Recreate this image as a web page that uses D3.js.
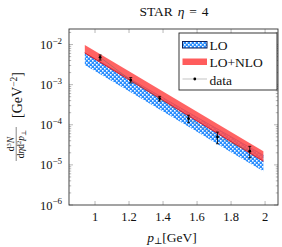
<!DOCTYPE html>
<html>
<head>
<meta charset="utf-8">
<script src="https://cdn.jsdelivr.net/npm/d3@7"></script>
<style>
    body { margin: 0; background: #fff; }
    svg text { font-family: "Liberation Serif", "DejaVu Serif", serif; fill: #111; }
</style>
</head>
<body>
<div id="chart"></div>
<script>

    // band sample points (pT) and values
    var bandX = [0.94, 1.2, 1.4, 1.6, 1.8, 1.99];
    var loLow = [3.09e-3, 6.82e-4, 2.13e-4, 6.67e-5, 2.08e-5, 6.9e-6];
    var loHigh = [6.17e-3, 1.44e-3, 4.70e-4, 1.53e-4, 5.01e-5, 1.74e-5];
    var nloLow = [6.17e-3, 1.32e-3, 4.05e-4, 1.24e-4, 3.79e-5, 1.23e-5];
    var nloHigh = [9.77e-3, 2.16e-3, 6.75e-4, 2.11e-4, 6.59e-5, 2.19e-5];

    // STAR data
    var dataX = [1.03, 1.21, 1.38, 1.55, 1.72, 1.91];
    var dataY = [4.8e-3, 1.3e-3, 4.5e-4, 1.43e-4, 4.96e-5, 2.2e-5];
    var dataErr = [0.7e-3, 0.2e-3, 0.6e-4, 0.3e-4, 1.6e-5, 0.7e-5];

    var xTicks = [1, 1.2, 1.4, 1.6, 1.8, 2];
    var yTickExp = [-2, -3, -4, -5, -6];
    var legendLabels = ["LO", "LO+NLO", "data"];

    var W = 282, H = 247;
    var pL = 69, pR = 278, pT = 29, pB = 205;

    var svg = d3.select("#chart").append("svg")
        .attr("width", W)
        .attr("height", H);

    var defs = svg.append("defs");
    var pat = defs.append("pattern")
        .attr("id", "dots")
        .attr("patternUnits", "userSpaceOnUse")
        .attr("width", 4)
        .attr("height", 4);
    pat.append("rect").attr("width", 4).attr("height", 4).attr("fill", "#2a8eff");
    pat.append("rect").attr("x", 0).attr("y", 0).attr("width", 1.6).attr("height", 1.6).attr("fill", "#fff");
    pat.append("rect").attr("x", 2).attr("y", 2).attr("width", 1.6).attr("height", 1.6).attr("fill", "#fff");

    defs.append("clipPath").attr("id", "clip")
        .append("rect")
        .attr("x", pL).attr("y", pT)
        .attr("width", pR - pL).attr("height", pB - pT);

    var x = d3.scaleLinear()
        .domain([0.847, 2.076])
        .range([pL, pR]);

    var y = d3.scaleLog()
        .domain([1e-6, Math.pow(10, -1.6125)])
        .range([pB, pT]);

    // minor ticks on log axis
    var minor = [];
    yTickExp.forEach(function (e) {
        for (var k = 2; k <= 9; k++) {
            var v = k * Math.pow(10, e);
            if (v < y.domain()[1]) minor.push(v);
        }
    });

    var ticks = svg.append("g").attr("stroke", "#9a9a9a").attr("stroke-width", 0.7);
    minor.forEach(function (v) {
        ticks.append("line").attr("x1", pL).attr("x2", pL + 2.2).attr("y1", y(v)).attr("y2", y(v));
        ticks.append("line").attr("x1", pR).attr("x2", pR - 2.2).attr("y1", y(v)).attr("y2", y(v));
    });
    yTickExp.forEach(function (e) {
        var v = Math.pow(10, e);
        ticks.append("line").attr("x1", pL).attr("x2", pL + 4).attr("y1", y(v)).attr("y2", y(v));
        ticks.append("line").attr("x1", pR).attr("x2", pR - 4).attr("y1", y(v)).attr("y2", y(v));
    });
    xTicks.forEach(function (t) {
        ticks.append("line").attr("x1", x(t)).attr("x2", x(t)).attr("y1", pB).attr("y2", pB - 4);
        ticks.append("line").attr("x1", x(t)).attr("x2", x(t)).attr("y1", pT).attr("y2", pT + 4);
    });

    var plot = svg.append("g").attr("clip-path", "url(#clip)");

    var loArea = d3.area()
        .x(function (d, i) { return x(bandX[i]); })
        .y0(function (d, i) { return y(loLow[i]); })
        .y1(function (d, i) { return y(loHigh[i]); });

    var nloArea = d3.area()
        .x(function (d, i) { return x(bandX[i]); })
        .y0(function (d, i) { return y(nloLow[i]); })
        .y1(function (d, i) { return y(nloHigh[i]); });

    plot.append("path")
        .datum(bandX)
        .attr("d", loArea)
        .attr("fill", "url(#dots)");

    plot.append("path")
        .datum(bandX)
        .attr("d", d3.line().x(function (d, i) { return x(bandX[i]); }).y(function (d, i) { return y(loHigh[i]); }))
        .attr("fill", "none")
        .attr("stroke", "#2f5fc8")
        .attr("stroke-width", 1);

    plot.append("path")
        .datum(bandX)
        .attr("d", nloArea)
        .attr("fill", "#ff4d4d")
        .attr("fill-opacity", 0.88);

    plot.append("path")
        .datum(bandX)
        .attr("d", d3.line().x(function (d, i) { return x(bandX[i]); }).y(function (d, i) { return y(nloLow[i]); }))
        .attr("fill", "none")
        .attr("stroke", "#d42030")
        .attr("stroke-width", 1);

    // data
    plot.append("path")
        .datum(dataX)
        .attr("d", d3.line().x(function (d, i) { return x(dataX[i]); }).y(function (d, i) { return y(dataY[i]); }))
        .attr("fill", "none")
        .attr("stroke", "#666")
        .attr("stroke-width", 0.4);

    dataX.forEach(function (d, i) {
        var g = plot.append("g").attr("stroke", "#000").attr("stroke-width", 0.8);
        g.append("line")
            .attr("x1", x(d)).attr("x2", x(d))
            .attr("y1", y(dataY[i] - dataErr[i])).attr("y2", y(dataY[i] + dataErr[i]));
        [dataY[i] - dataErr[i], dataY[i] + dataErr[i]].forEach(function (v) {
            g.append("line").attr("x1", x(d) - 1.5).attr("x2", x(d) + 1.5).attr("y1", y(v)).attr("y2", y(v));
        });
        plot.append("circle").attr("cx", x(d)).attr("cy", y(dataY[i])).attr("r", 1.4).attr("fill", "#000");
    });

    // frame
    svg.append("rect")
        .attr("x", pL).attr("y", pT)
        .attr("width", pR - pL).attr("height", pB - pT)
        .attr("fill", "none")
        .attr("stroke", "#333")
        .attr("stroke-width", 0.9);

    // tick labels
    xTicks.forEach(function (t) {
        svg.append("text")
            .attr("x", x(t)).attr("y", 221)
            .attr("text-anchor", "middle")
            .attr("font-size", 12.5)
            .text(t);
    });
    yTickExp.forEach(function (e) {
        var txt = svg.append("text")
            .attr("x", 62).attr("y", y(Math.pow(10, e)) + 4.5)
            .attr("text-anchor", "end")
            .attr("font-size", 12.5);
        txt.append("tspan").text("10");
        txt.append("tspan").attr("dy", -5.5).attr("font-size", 9).text("\u2212" + (-e));
    });

    // axis labels
    var xl = svg.append("text")
        .attr("x", 172).attr("y", 242)
        .attr("text-anchor", "middle")
        .attr("font-size", 13.5);
    xl.append("tspan").attr("font-style", "italic").text("p");
    xl.append("tspan").attr("font-size", 9).attr("dy", 2).text("\u22a5");
    xl.append("tspan").attr("dy", -2).text("[GeV]");

    var yl = svg.append("g").attr("transform", "translate(18,117) rotate(-90)");
    var num = yl.append("text").attr("x", -27).attr("y", -4).attr("text-anchor", "middle").attr("font-size", 9.5);
    num.append("tspan").text("d");
    num.append("tspan").attr("dy", -3.5).attr("font-size", 6.5).text("3");
    num.append("tspan").attr("dy", 3.5).attr("font-style", "italic").text("N");
    yl.append("line").attr("x1", -44).attr("x2", -10).attr("y1", -1.8).attr("y2", -1.8)
        .attr("stroke", "#111").attr("stroke-width", 0.5);
    var den = yl.append("text").attr("x", -27).attr("y", 6).attr("text-anchor", "middle").attr("font-size", 9.5);
    den.append("tspan").text("d");
    den.append("tspan").attr("font-style", "italic").text("\u03b7");
    den.append("tspan").text("d");
    den.append("tspan").attr("dy", -3.5).attr("font-size", 6.5).text("2");
    den.append("tspan").attr("dy", 3.5).attr("font-style", "italic").text("p");
    den.append("tspan").attr("dy", 1.5).attr("font-size", 6.5).text("\u22a5");
    var unit = yl.append("text").attr("x", 22).attr("y", 4).attr("text-anchor", "middle").attr("font-size", 14);
    unit.append("tspan").text("[GeV");
    unit.append("tspan").attr("dy", -5.5).attr("font-size", 9.5).text("\u22122");
    unit.append("tspan").attr("dy", 5.5).text("]");

    // title
    var title = svg.append("text")
        .attr("x", 174).attr("y", 16)
        .attr("text-anchor", "middle")
        .attr("font-size", 13.5)
        .attr("word-spacing", 1.5);
    title.append("tspan").text("STAR ");
    title.append("tspan").attr("font-style", "italic").text("\u03b7");
    title.append("tspan").text(" = 4");

    // legend
    var lg = svg.append("g");
    lg.append("rect")
        .attr("x", 179).attr("y", 33)
        .attr("width", 98).attr("height", 57)
        .attr("fill", "#fff")
        .attr("stroke", "#222")
        .attr("stroke-width", 0.9);
    lg.append("rect")
        .attr("x", 182.5).attr("y", 41.5).attr("width", 24.5).attr("height", 6.5)
        .attr("fill", "url(#dots)").attr("stroke", "#0d1f5c").attr("stroke-width", 1);
    lg.append("rect")
        .attr("x", 182.5).attr("y", 58.5).attr("width", 24.5).attr("height", 6.5)
        .attr("fill", "#ff5c5c");
    lg.append("line")
        .attr("x1", 182.5).attr("x2", 207).attr("y1", 79).attr("y2", 79)
        .attr("stroke", "#666").attr("stroke-width", 0.4);
    lg.append("circle").attr("cx", 194.8).attr("cy", 79).attr("r", 1.4).attr("fill", "#000");
    legendLabels.forEach(function (l, i) {
        lg.append("text")
            .attr("x", 209.5).attr("y", 49.5 + i * 17.5)
            .attr("font-size", 13.5)
            .text(l);
    });

</script>
</body>
</html>
